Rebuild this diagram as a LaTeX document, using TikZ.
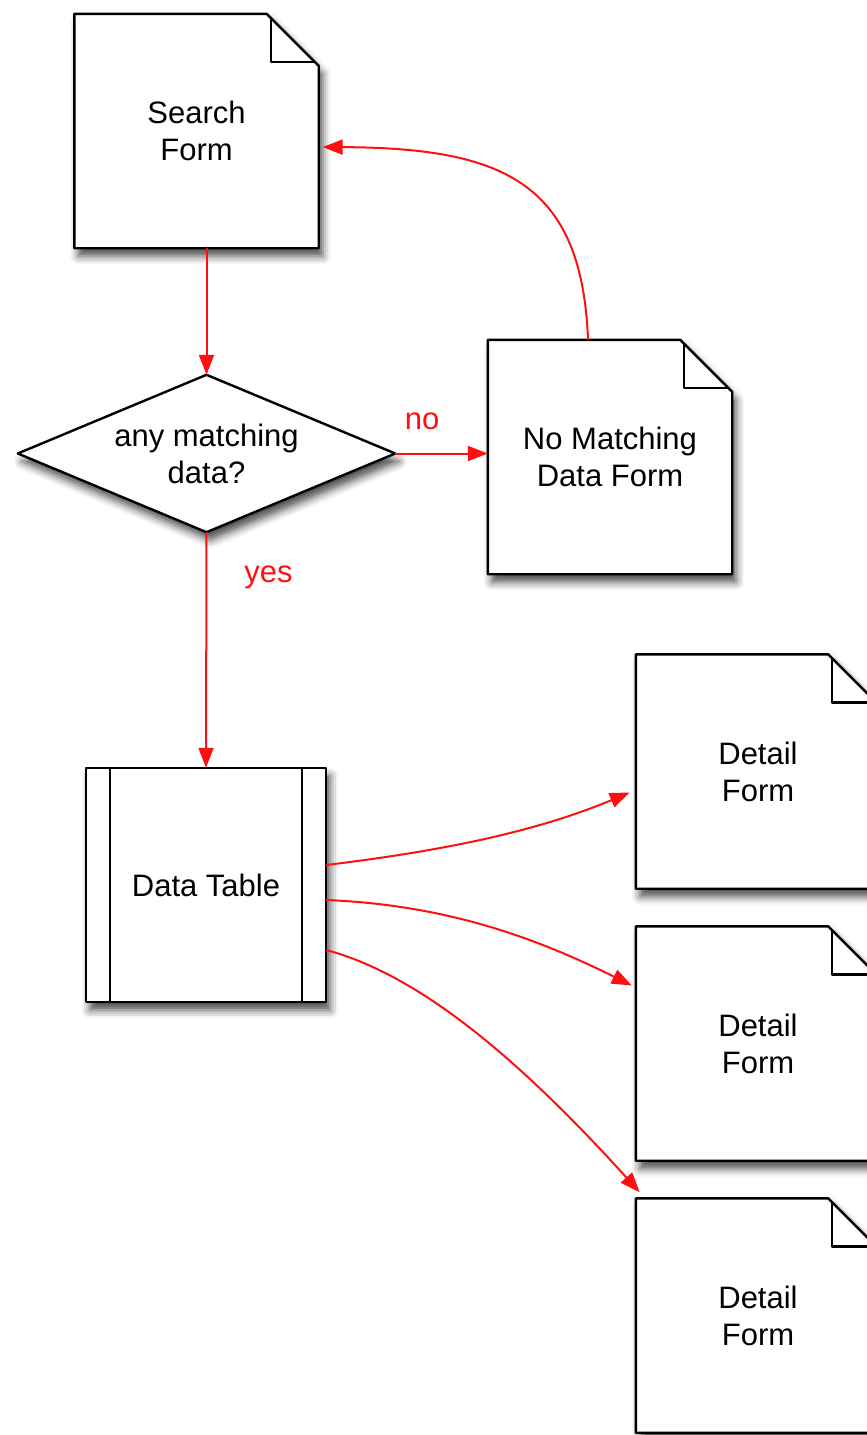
\documentclass[tikz,border=0pt]{standalone}
\usepackage{fontspec}
\setmainfont{Liberation Sans}
\usetikzlibrary{arrows.meta,shadows.blur}
\pgfdeclarelayer{bg}
\pgfsetlayers{bg,main}
\definecolor{flowred}{RGB}{255,16,16}
\tikzset{
  boxline/.style={draw=black, line width=2.4pt, line join=round},
  shade box/.style={boxline, fill=white, blur shadow={shadow xshift=4pt, shadow yshift=-8pt, shadow blur radius=8pt, shadow opacity=70}},
  txt/.style={align=center, inner sep=0pt, font=\fontsize{31}{37}\selectfont},
  page/.style={txt, minimum width=244pt, minimum height=234pt},
  flow/.style={draw=flowred, line width=2pt, -{Triangle[length=20pt,width=15pt]}},
  lab/.style={inner sep=0pt, text=flowred, font=\fontsize{31}{37}\selectfont},
}
\newcommand\docpage[1]{%
  \begin{pgfonlayer}{bg}
    \path[shade box] (#1.north west) -- ([xshift=-52pt]#1.north east) -- ([yshift=-52pt]#1.north east) -- (#1.south east) -- (#1.south west) -- cycle;
    \draw[boxline] ([xshift=-48pt,yshift=-4pt]#1.north east) |- ([xshift=-4pt,yshift=-48pt]#1.north east);
  \end{pgfonlayer}}
\begin{document}
\begin{tikzpicture}[x=1pt,y=-1pt]
\useasboundingbox (0,0) rectangle (867,1435);

\node[page] (sf) at (196.5,131) {Search\\Form};
\node[page] (nm) at (610,457) {No Matching\\Data Form};
\node[txt, minimum width=377pt, minimum height=157pt] (dia) at (206.5,453.5) {any matching\\data?};
\node[txt, minimum width=240pt, minimum height=234pt] (dt) at (206,885) {Data Table};
\node[page] (d1) at (758,771.5) {Detail\\Form};
\node[page] (d2) at (758,1043.5) {Detail\\Form};
\node[page] (d3) at (758,1315.5) {Detail\\Form};

\docpage{sf}
\docpage{nm}
\docpage{d1}
\docpage{d2}
\docpage{d3}
\begin{pgfonlayer}{bg}
  \path[shade box] (dia.north) -- (dia.east) -- (dia.south) -- (dia.west) -- cycle;
  \path[shade box] (dt.north west) rectangle (dt.south east);
  \draw[boxline] ([xshift=24pt]dt.north west) -- ([xshift=24pt]dt.south west);
  \draw[boxline] ([xshift=-24pt]dt.north east) -- ([xshift=-24pt]dt.south east);
\end{pgfonlayer}

\draw[flow] (sf.south -| dia.north) -- (dia.north);
\draw[flow] (dia.east) -- (nm.west |- dia.east)
  node[lab, pos=0.29, above=23pt] (no) {no};
\draw[flow] (dia.south) -- (dt.north)
  node[lab, pos=0.18, anchor=base west, xshift=37pt, yshift=-8pt] (yes) {yes};
\draw[flow] ([xshift=-22pt]nm.north) .. controls (582,180) and (500,148) .. ([xshift=4pt,yshift=-16pt]sf.east);
\draw[flow] ([yshift=20pt]dt.east) .. controls (450,850) and (540,830) .. ([xshift=-6pt,yshift=-21pt]d1.west);
\draw[flow] ([yshift=-15pt]dt.east) .. controls (450,905) and (540,940) .. ([xshift=-4pt,yshift=58pt]d2.west);
\draw[flow] ([yshift=-65pt]dt.east) .. controls (420,975) and (520,1060) .. ([xshift=4pt,yshift=6pt]d3.north west);
\end{tikzpicture}
\end{document}
